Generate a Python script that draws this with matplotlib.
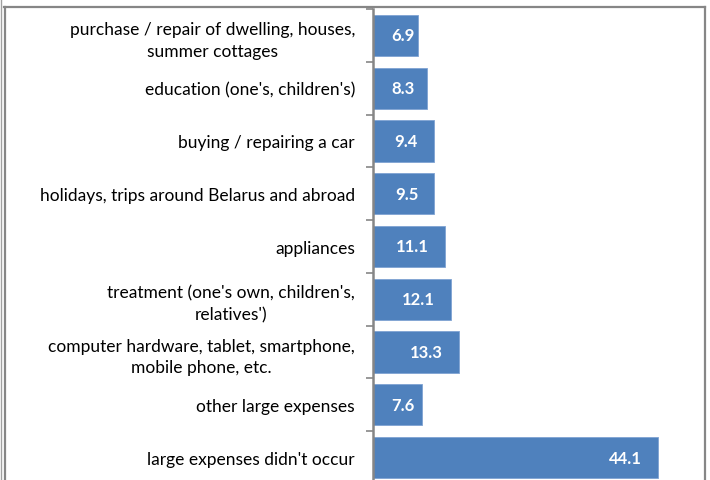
import matplotlib.pyplot as plt
from matplotlib.lines import Line2D
import numpy as np

# categories top to bottom
categories = [
    "purchase / repair of dwelling, houses,\nsummer cottages",
    "education (one's, children's)",
    "buying / repairing a car",
    "holidays, trips around Belarus and abroad",
    "appliances",
    "treatment (one's own, children's,\nrelatives')",
    "computer hardware, tablet, smartphone,\nmobile phone, etc.",
    "other large expenses",
    "large expenses didn't occur",
]
values = [6.9, 8.3, 9.4, 9.5, 11.1, 12.1, 13.3, 7.6, 44.1]

bar_color = '#4F81BD'
axis_gray = '#868686'

plt.rcParams['font.family'] = ['Lato', 'DejaVu Sans']

fig = plt.figure(figsize=(7.1, 4.81), dpi=100)
W, H = 710, 481
left, right = 373 / W, 696 / W
top, bottom = 1 - 10 / H, 1 - 485 / H
ax = fig.add_axes([left, bottom, right - left, top - bottom])

n = len(categories)
y = np.arange(n)
ax.barh(y, values, height=0.78, color=bar_color, edgecolor='#7fa3d3', linewidth=0.6)
ax.set_xlim(0, 50)
ax.set_ylim(n - 0.5, -0.5)

# value labels: inside end, but not closer than 18 px to the axis
renderer = fig.canvas.get_renderer()
for yi, v in zip(y, values):
    t = ax.text(v, yi, f"{v:.1f}", ha='left', va='center', color='white',
                fontsize=12, fontweight='bold')
    w = t.get_window_extent(renderer).width
    end_px = ax.transData.transform((v, 0))[0]
    x0_px = ax.transData.transform((0, 0))[0]
    lx = max(end_px - 16 - w, x0_px + 18)
    t.set_x(ax.transData.inverted().transform((lx, 0))[0])

# category boundaries as major ticks, labels on minor ticks
ax.set_yticks(np.arange(-0.5, n, 1.0))
ax.set_yticklabels([])
ax.set_yticks(y, minor=True)
ax.set_yticklabels(categories, minor=True, fontsize=12.5)
for lab in ax.get_yticklabels(minor=True):
    lab.set_horizontalalignment('right')
    lab.set_multialignment('center')
    lab.set_linespacing(1.45)
ax.tick_params(axis='y', which='major', direction='out', length=5, width=1.2, color=axis_gray)
ax.tick_params(axis='y', which='minor', length=0, pad=13)
ax.set_xticks([])

for side in ['top', 'right', 'bottom']:
    ax.spines[side].set_visible(False)
ax.spines['left'].set_color(axis_gray)
ax.spines['left'].set_linewidth(1.8)

# chart frame
def fline(xs, ys, lw, c):
    fig.add_artist(Line2D([x / W for x in xs], [1 - yv / H for yv in ys],
                          transform=fig.transFigure, lw=lw, color=c))

fline([1.5, 1.5], [0, H], 1.0, '#a0a0a0')
fline([4.5, 4.5], [7.5, H], 1.6, axis_gray)
fline([4, 705], [7.5, 7.5], 1.6, axis_gray)
fline([704.5, 704.5], [7.5, H], 1.6, axis_gray)

fig.savefig('out.png', dpi=100)
